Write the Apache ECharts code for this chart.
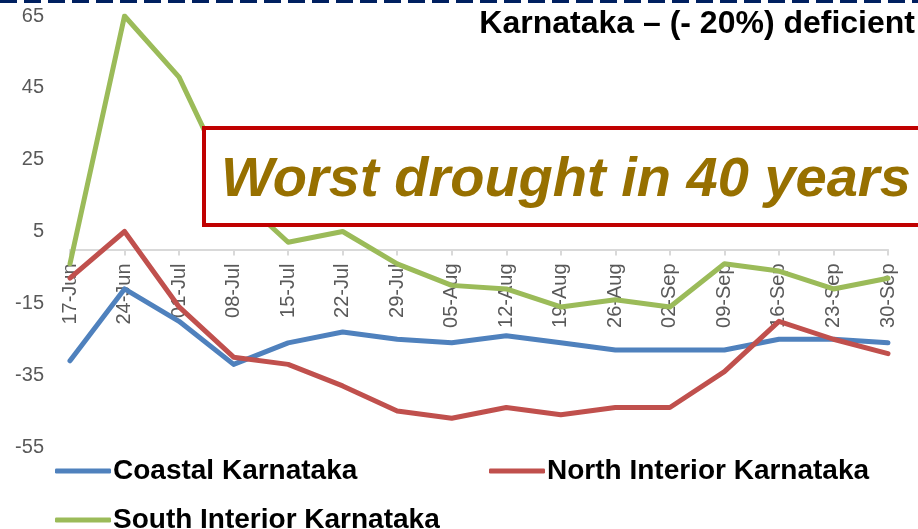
<!DOCTYPE html>
<html>
<head>
<meta charset="utf-8">
<script src="https://cdn.jsdelivr.net/npm/echarts@6/dist/echarts.min.js"></script>
<style>html,body{margin:0;padding:0;background:#fff;}#c{width:918px;height:529px;}</style>
</head>
<body>
<div id="c"></div>
<script>
const categories = ['17-Jun','24-Jun','01-Jul','08-Jul','15-Jul','22-Jul','29-Jul','05-Aug','12-Aug','19-Aug','26-Aug','02-Sep','09-Sep','16-Sep','23-Sep','30-Sep'];
const coastal = [-31, -11, -20, -32, -26, -23, -25, -26, -24, -26, -28, -28, -28, -25, -25, -26];
const northInterior = [-8, 5, -16, -30, -32, -38, -45, -47, -44, -46, -44, -44, -34, -20, -25, -29];
const southInterior = [-4, 65, 48, 16, 2, 5, -4, -10, -11, -16, -14, -16, -4, -6, -11, -8];
const yTicks = {min: -55, max: 65, interval: 20};
const titleText = 'Karnataka – (- 20%) deficient';
const boxText = 'Worst drought in 40 years';
const names = ['Coastal Karnataka', 'North Interior Karnataka', 'South Interior Karnataka'];
const colors = ['#4F81BD', '#C0504D', '#9BBB59'];

const chart = echarts.init(document.getElementById('c'), null, {renderer: 'canvas'});
const font = '"Liberation Sans", Arial, sans-serif';
const gridTop = 16, gridBottom = 82, H = 529;
const plotH = H - gridTop - gridBottom;
// place the category axis at value 0, as in the reference (axis crosses at zero)
const zeroOffset = -(plotH * (0 - yTicks.min) / (yTicks.max - yTicks.min));
const legendBase = {
  orient: 'horizontal', itemWidth: 56, itemHeight: 5, icon: 'roundRect', itemGap: 0,
  selectedMode: false,
  textStyle: {fontFamily: font, fontWeight: 'bold', fontSize: 28, color: '#000', padding: [0,0,0,-3]}
};
function mkSeries(name, data, color) {
  return {
    name: name, type: 'line', data: data, showSymbol: false, symbol: 'none',
    lineStyle: {width: 5, color: color, cap: 'round', join: 'round'},
    itemStyle: {color: color}, z: 2, animation: false
  };
}
chart.setOption({
  animation: false,
  backgroundColor: '#fff',
  grid: {left: 70, right: 30, top: gridTop, bottom: gridBottom},
  legend: [
    Object.assign({}, legendBase, {data: [names[0]], left: 50, top: 452}),
    Object.assign({}, legendBase, {data: [names[1]], left: 484, top: 452}),
    Object.assign({}, legendBase, {data: [names[2]], left: 50, top: 501})
  ],
  xAxis: {
    type: 'category', data: categories, boundaryGap: false,
    position: 'bottom', offset: zeroOffset,
    axisLine: {onZero: false, lineStyle: {color: '#D9D9D9', width: 2}},
    axisTick: {show: true, alignWithLabel: true, length: 6, lineStyle: {color: '#D9D9D9', width: 2}},
    axisLabel: {interval: 0, rotate: 90, margin: 14, color: '#595959', fontSize: 20, fontFamily: font},
    splitLine: {show: false}
  },
  yAxis: {
    type: 'value', min: yTicks.min, max: yTicks.max, interval: yTicks.interval,
    axisLine: {show: false}, axisTick: {show: false}, splitLine: {show: false},
    axisLabel: {color: '#595959', fontSize: 20, fontFamily: font, margin: 26}
  },
  series: [
    mkSeries(names[0], coastal, colors[0]),
    mkSeries(names[1], northInterior, colors[1]),
    mkSeries(names[2], southInterior, colors[2])
  ],
  graphic: [
    {type: 'line', z: 100, shape: {x1: 0, y1: 1.5, x2: 918, y2: 1.5},
     style: {stroke: '#002060', lineWidth: 3, lineDash: [17, 7]}},
    {type: 'text', z: 100, right: 3, top: 8,
     style: {text: titleText, font: 'bold 32px ' + font, fill: '#000'}},
    {type: 'rect', z: 100, shape: {x: 204, y: 128, width: 740, height: 97},
     style: {fill: '#fff', stroke: '#C00000', lineWidth: 4}},
    {type: 'text', z: 101, left: 221, top: 153,
     style: {text: boxText, font: 'italic bold 56px ' + font, fill: '#977000'}}
  ]
});
</script>
</body>
</html>
